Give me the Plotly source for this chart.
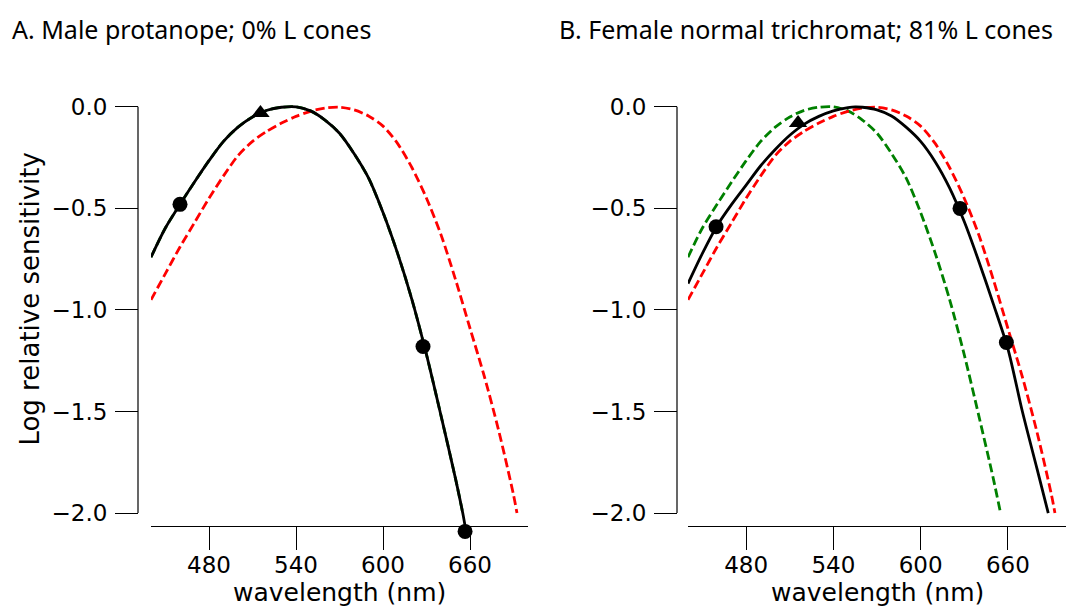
import plotly.graph_objects as go
import numpy as np

# ---------------- data ----------------
# M-cone (log relative sensitivity)
m_wl = [440, 450, 460, 470, 480, 490, 500, 510, 520, 530, 540, 550, 560, 570,
        580, 590, 600, 610, 620, 630, 640, 650, 655, 657]
m_val = [-0.74, -0.595, -0.48, -0.37, -0.265, -0.17, -0.10, -0.05, -0.017, -0.002,
         0.0, -0.02, -0.065, -0.13, -0.23, -0.35, -0.52, -0.72, -0.95, -1.22,
         -1.52, -1.83, -2.0, -2.08]

# L-cone (log relative sensitivity)
l_wl = [440, 450, 460, 470, 480, 490, 500, 510, 520, 530, 540, 550, 560, 570,
        580, 590, 600, 610, 620, 630, 640, 650, 660, 670, 680, 690, 692.4]
l_val = [-0.95, -0.82, -0.69, -0.57, -0.45, -0.34, -0.24, -0.17, -0.12, -0.08,
         -0.047, -0.022, -0.006, -0.002, -0.015, -0.045, -0.095, -0.18, -0.30, -0.45,
         -0.63, -0.85, -1.09, -1.33, -1.60, -1.91, -2.0]

# Female trichromat fit (81% L)
f_wl = [440, 450, 460, 470, 480, 490, 500, 510, 520, 530, 540, 550, 555, 560,
        570, 580, 590, 600, 610, 620, 630, 640, 650, 660, 670, 680, 687.8]
f_val = [-0.87, -0.72, -0.585, -0.48, -0.385, -0.29, -0.21, -0.14, -0.085, -0.047,
         -0.02, -0.004, 0.0, -0.002, -0.015, -0.045, -0.10, -0.17, -0.27, -0.40,
         -0.565, -0.76, -0.97, -1.19, -1.50, -1.78, -2.0]

# measured points
a_circ_wl = [460, 627.6, 656.6]
a_circ_val = [-0.48, -1.18, -2.09]
a_tri_wl = [515.5]
a_tri_val = [-0.03]

b_circ_wl = [459.3, 627.1, 659.0]
b_circ_val = [-0.59, -0.50, -1.16]
b_tri_wl = [515.7]
b_tri_val = [-0.08]

xticks = [480, 540, 600, 660]
yticks = [0.0, -0.5, -1.0, -1.5, -2.0]
titles = ["A. Male protanope; 0% L cones", "B. Female normal trichromat; 81% L cones"]
xlabel = "wavelength (nm)"
ylabel = "Log relative sensitivity"

# ---------------- figure ----------------
W, H = 1088, 608
def px(x): return x / W
def py(y): return 1 - y / H

XR = [440, 700]
YR = [-2.12, 0.03]
y_top_px = 101 - 0.03 * 205.5
y_bot_px = 512 + 0.12 * 205.5

RED = "#ff0000"
GREEN = "#008000"
LW = 2.8
DASH = "9px,4px"

mw = np.array(m_wl); mv = np.array(m_val)
keep = mv >= -2.0

fig = go.Figure()

def curve(x, y, color, dash, xa, ya):
    fig.add_trace(go.Scatter(x=x, y=y, mode="lines",
                             line=dict(color=color, width=LW, dash=dash,
                                       shape="spline", smoothing=0.8),
                             xaxis=xa, yaxis=ya, showlegend=False, hoverinfo="skip"))

def pts(x, y, sym, size, xa, ya):
    fig.add_trace(go.Scatter(x=x, y=y, mode="markers",
                             marker=dict(color="black", size=size, symbol=sym),
                             xaxis=xa, yaxis=ya, showlegend=False, cliponaxis=False,
                             hoverinfo="skip"))

# Panel A
curve(mw[keep], mv[keep], GREEN, DASH, "x", "y")
curve(l_wl, l_val, RED, DASH, "x", "y")
curve(m_wl, m_val, "black", "solid", "x", "y")
pts(a_circ_wl, a_circ_val, "circle", 15, "x", "y")
pts(a_tri_wl, a_tri_val, "triangle-up", 16, "x", "y")

# Panel B
curve(mw[keep], mv[keep], GREEN, DASH, "x2", "y2")
curve(l_wl, l_val, RED, DASH, "x2", "y2")
curve(f_wl, f_val, "black", "solid", "x2", "y2")
pts(b_circ_wl, b_circ_val, "circle", 15, "x2", "y2")
pts(b_tri_wl, b_tri_val, "triangle-up", 16, "x2", "y2")

tickfont = dict(family="DejaVu Sans", size=23, color="black")
ydom = [py(y_bot_px), py(y_top_px)]
xaxis_pos = py(525)

common_x = dict(range=XR, tickvals=xticks, ticks="outside", ticklen=23, tickwidth=1.2,
                tickcolor="black", showline=True, linecolor="black", linewidth=1.2,
                showgrid=False, zeroline=False, tickfont=tickfont, anchor="free",
                position=xaxis_pos, ticklabelstandoff=-5)
common_y = dict(range=YR, tickvals=yticks, tickformat=".1f", ticks="outside", ticklen=23,
                tickwidth=1.2, tickcolor="black", showline=False, showgrid=False,
                zeroline=False, tickfont=tickfont, anchor="free", domain=ydom,
                ticklabelstandoff=3)

fig.update_layout(
    width=W, height=H,
    margin=dict(l=0, r=0, t=0, b=0),
    plot_bgcolor="white", paper_bgcolor="white",
    xaxis=dict(domain=[px(151), px(528)], **common_x),
    yaxis=dict(position=px(138), **common_y),
    xaxis2=dict(domain=[px(688), px(1066)], **common_x),
    yaxis2=dict(position=px(677), **common_y),
)

# y spines (only between 0.0 and -2.0)
for xs in (138, 677):
    fig.add_shape(type="line", xref="paper", yref="paper",
                  x0=px(xs), x1=px(xs), y0=py(101), y1=py(512),
                  line=dict(color="black", width=1.2))

title_font = dict(family="Noto Sans", size=25, color="black")
fig.add_annotation(text=titles[0], x=px(10), y=py(22), xref="paper", yref="paper",
                   xanchor="left", yanchor="middle", showarrow=False, font=title_font)
fig.add_annotation(text=titles[1], x=px(557), y=py(22), xref="paper", yref="paper",
                   xanchor="left", yanchor="middle", showarrow=False, font=title_font)

label_font = dict(family="DejaVu Sans", size=25, color="black")
for cx in (339.5, 877):
    fig.add_annotation(text=xlabel, x=px(cx), y=py(592), xref="paper", yref="paper",
                       xanchor="center", yanchor="middle", showarrow=False, font=label_font)
fig.add_annotation(text=ylabel, x=px(30), y=py(296), xref="paper", yref="paper",
                   xanchor="center", yanchor="middle", showarrow=False, textangle=-90,
                   font=dict(family="DejaVu Sans", size=26, color="black"))

fig.write_html("out.html", config={"displayModeBar": False},
               post_script="document.body.style.margin='0px';document.body.style.overflow='hidden';")
